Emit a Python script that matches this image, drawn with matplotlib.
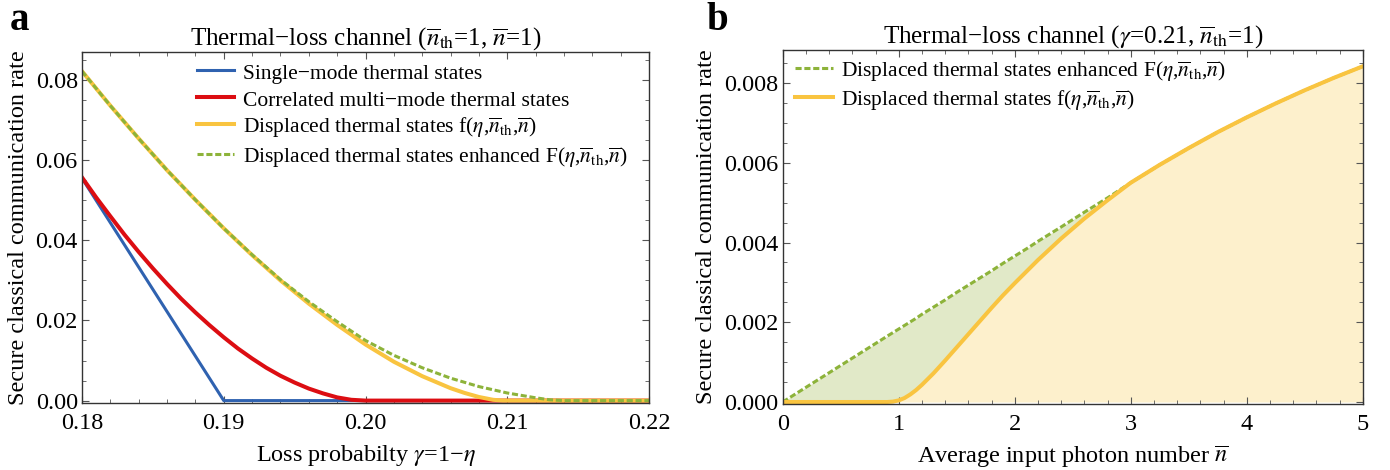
import matplotlib
matplotlib.use('Agg')
import matplotlib.pyplot as plt
from matplotlib.ticker import MultipleLocator, FormatStrFormatter

plt.rcParams['font.family'] = ['Liberation Serif', 'DejaVu Serif']
plt.rcParams['mathtext.fontset'] = 'stix'

# --- panel a: rate vs loss probability (nth=1, n=1) ---
gamma_single = [0.180, 0.190, 0.220]
rate_single = [0.0555, 0.0, 0.0]

gamma_corr = [0.180, 0.181, 0.182, 0.183, 0.184, 0.185, 0.186, 0.187, 0.188,
              0.189, 0.190, 0.191, 0.192, 0.193, 0.194, 0.195, 0.196, 0.197,
              0.198, 0.199, 0.200, 0.220]
rate_corr = [0.0557, 0.0507, 0.0460, 0.0414, 0.0371, 0.0330, 0.0291, 0.0254,
             0.0220, 0.0188, 0.0158, 0.0130, 0.0105, 0.0082, 0.0062, 0.0045,
             0.0030, 0.0018, 0.0008, 0.0002, 0.0000, 0.0000]

gamma_disp = [0.180, 0.182, 0.184, 0.186, 0.188, 0.190, 0.192, 0.194,
              0.196, 0.198, 0.200, 0.202, 0.204, 0.206, 0.207, 0.208, 0.209,
              0.2097, 0.220]
rate_disp = [0.0822, 0.0736, 0.0654, 0.0575, 0.0501, 0.0430, 0.0363, 0.0300,
             0.0242, 0.0189, 0.0140, 0.0097, 0.0061, 0.0031, 0.0019, 0.0009,
             0.0002, 0.0, 0.0]

gamma_enh = [0.180, 0.182, 0.184, 0.186, 0.188, 0.190, 0.192, 0.194,
             0.196, 0.198, 0.200, 0.202, 0.204, 0.206, 0.208, 0.210, 0.212,
             0.213, 0.214, 0.220]
rate_enh = [0.0822, 0.0736, 0.0654, 0.0575, 0.0501, 0.0430, 0.0364, 0.0302,
            0.0247, 0.0197, 0.0150, 0.0113, 0.0082, 0.0056, 0.0035, 0.0019,
            0.0007, 0.0002, 0.0, 0.0]

# --- panel b: rate vs average photon number (gamma=0.21, nth=1) ---
nbar_f = [0.0, 0.9, 0.95, 1.0, 1.05, 1.1, 1.15, 1.2, 1.3, 1.4, 1.5, 1.6,
          1.7, 1.8, 1.9, 2.0, 2.1, 2.2, 2.4, 2.6, 2.8, 3.0, 3.25, 3.5, 3.75,
          4.0, 4.25, 4.5, 4.75, 5.0]
rate_f = [0.0, 0.0, 0.00001, 0.00004, 0.00010, 0.00019, 0.00030, 0.00043,
          0.00072, 0.00104, 0.00137, 0.00170, 0.00203, 0.00236, 0.00268,
          0.00298, 0.00327, 0.00356, 0.00410, 0.00460, 0.00506, 0.00550,
          0.00595, 0.00637, 0.00677, 0.00714, 0.00749, 0.00782, 0.00813,
          0.00842]
rate_F = [0.0, 0.00165, 0.00174, 0.00183, 0.00192, 0.00201, 0.00210, 0.00220,
          0.00238, 0.00256, 0.00275, 0.00293, 0.00311, 0.00329, 0.00348,
          0.00366, 0.00384, 0.00403, 0.00439, 0.00476, 0.00512, 0.00550,
          0.00595, 0.00637, 0.00677, 0.00714, 0.00749, 0.00782, 0.00813,
          0.00842]

c_blue = '#2f62b0'
c_red = '#dc0d12'
c_yellow = '#f9c440'
c_green = '#8db33a'
dash = (0, (2.0, 0.9))

nth = r'$\overline{n}_{\mathrm{th}}$'
nb = r'$\overline{n}$'
eta = r'$\eta$'
FS = 17.5


def style_axes(ax):
    for s in ax.spines.values():
        s.set_color('#333333')
        s.set_linewidth(1.0)
    ax.tick_params(which='both', direction='in', top=True, right=True,
                   color='#555555', labelsize=FS, pad=3)
    ax.tick_params(axis='x', which='major', pad=7)
    ax.tick_params(which='major', length=5)
    ax.tick_params(which='minor', length=3)


def add_legend(ax, x, y):
    ax.legend(loc='upper left', bbox_to_anchor=(x, y), frameon=False,
              fontsize=15.5, handlelength=1.75, handletextpad=0.4,
              handleheight=1.15, labelspacing=0.2,
              borderaxespad=0, borderpad=0)


fig = plt.figure(figsize=(13.9, 4.7), dpi=100)
W, H = 1390.0, 470.0
ax1 = fig.add_axes([82 / W, 1 - 403 / H, (649 - 82) / W, (403 - 52) / H])
ax2 = fig.add_axes([782.7 / W, 1 - 404 / H, 580 / W, (404 - 50) / H])

# panel a
ax1.plot(gamma_single, rate_single, color=c_blue, lw=2.2,
         label='Single\u2212mode thermal states')
ax1.plot(gamma_corr, rate_corr, color=c_red, lw=2.9,
         label='Correlated multi\u2212mode thermal states')
ax1.plot(gamma_disp, rate_disp, color=c_yellow, lw=2.9,
         label='Displaced thermal states f(' + eta + ',' + nth + ',' + nb + ')')
ax1.plot(gamma_enh, rate_enh, color=c_green, lw=2.2, ls=dash,
         label='Displaced thermal states enhanced F(' + eta + ',' + nth + ',' + nb + ')')
ax1.set_xlim(0.18, 0.22)
ax1.set_ylim(-0.0006, 0.087)
ax1.xaxis.set_major_locator(MultipleLocator(0.01))
ax1.xaxis.set_minor_locator(MultipleLocator(0.002))
ax1.yaxis.set_major_locator(MultipleLocator(0.02))
ax1.yaxis.set_minor_locator(MultipleLocator(0.005))
ax1.xaxis.set_major_formatter(FormatStrFormatter('%.2f'))
ax1.yaxis.set_major_formatter(FormatStrFormatter('%.2f'))
style_axes(ax1)
ax1.set_xlabel('Loss probabilty $\\gamma$=1\u2212$\\eta$', fontsize=FS, labelpad=7)
ax1.set_ylabel('Secure classical communication rate', fontsize=FS, labelpad=5)
ax1.set_title('Thermal\u2212loss channel (' + nth + '=1, ' + nb + '=1)',
              fontsize=18, pad=4)
add_legend(ax1, 0.202, 0.975)

# panel b
ax2.fill_between(nbar_f, 0, rate_f, color='#fdf0cc', lw=0)
ax2.fill_between(nbar_f, rate_f, rate_F, color='#e1e9c8', lw=0)
ax2.plot(nbar_f, rate_F, color=c_green, lw=2.2, ls=dash,
         label='Displaced thermal states enhanced F(' + eta + ',' + nth + ',' + nb + ')')
ax2.plot(nbar_f, rate_f, color=c_yellow, lw=2.9,
         label='Displaced thermal states f(' + eta + ',' + nth + ',' + nb + ')')
ax2.set_xlim(0, 5)
ax2.set_ylim(-0.00005, 0.00883)
ax2.xaxis.set_major_locator(MultipleLocator(1))
ax2.xaxis.set_minor_locator(MultipleLocator(0.2))
ax2.yaxis.set_major_locator(MultipleLocator(0.002))
ax2.yaxis.set_minor_locator(MultipleLocator(0.0005))
ax2.xaxis.set_major_formatter(FormatStrFormatter('%d'))
ax2.yaxis.set_major_formatter(FormatStrFormatter('%.3f'))
style_axes(ax2)
ax2.set_xlabel('Average input photon number ' + nb, fontsize=FS, labelpad=7)
ax2.set_ylabel('Secure classical communication rate', fontsize=FS, labelpad=5)
ax2.set_title('Thermal\u2212loss channel ($\\gamma$=0.21, ' + nth + '=1)',
              fontsize=18, pad=4)
add_legend(ax2, 0.021, 0.975)

fig.text(10 / W, 1 - 2 / H, 'a', fontsize=28, fontweight='bold', va='top')
fig.text(706 / W, 1 - 2 / H, 'b', fontsize=28, fontweight='bold', va='top')

fig.savefig('out.png', dpi=100)
